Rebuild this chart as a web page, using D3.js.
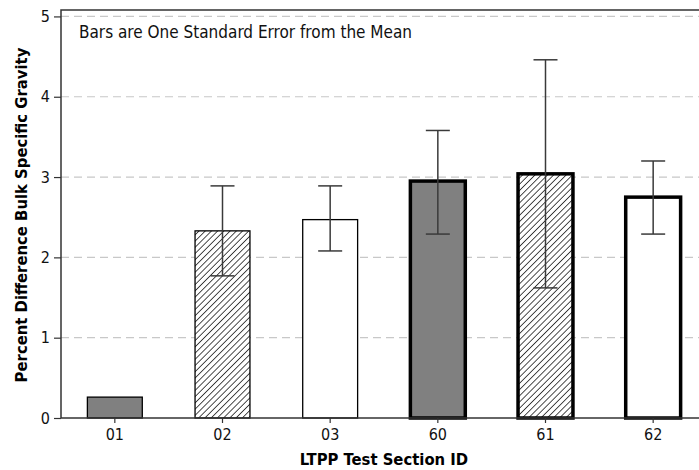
<!DOCTYPE html>
<meta charset="utf-8">
<style>
  body { margin: 0; background: #fff; }
  text { font-family: "DejaVu Sans Condensed", "DejaVu Sans", Tahoma, sans-serif; font-stretch: condensed; }
</style>
<svg width="699" height="470"></svg>
<script src="https://d3js.org/d3.v7.min.js"></script>
<script>

var sections = ["01", "02", "03", "60", "61", "62"];
var means = [0.26, 2.33, 2.47, 2.95, 3.04, 2.75];
var errLow = [null, 1.77, 2.08, 2.29, 1.62, 2.29];
var errHigh = [null, 2.89, 2.89, 3.58, 4.46, 3.20];
var fills = ["gray", "hatch", "white", "gray", "hatch", "white"];
var thick = [false, false, false, true, true, true];
var yTicks = [0, 1, 2, 3, 4, 5];

var svg = d3.select("svg"),
    margin = {left: 61, top: 10, bottom: 418, right: 707};

var x = d3.scaleBand()
    .domain(sections)
    .range([margin.left, margin.right])
    .paddingInner(0.49)
    .paddingOuter(0.245);

var y = d3.scaleLinear()
    .domain([0, 5.08])
    .range([margin.bottom, margin.top]);

// hatch pattern for the striped bars
var defs = svg.append("defs");
var pat = defs.append("pattern")
    .attr("id", "hatch")
    .attr("patternUnits", "userSpaceOnUse")
    .attr("width", 4.4).attr("height", 4.4)
    .attr("patternTransform", "rotate(45)");
pat.append("rect").attr("width", 4.4).attr("height", 4.4).attr("fill", "#fff");
pat.append("line")
    .attr("x1", 0).attr("y1", 0).attr("x2", 0).attr("y2", 4.4)
    .attr("stroke", "#000").attr("stroke-width", 1.4);

// gridlines
svg.append("g")
    .selectAll("line")
    .data(yTicks.filter(function(d) { return d > 0; }))
    .enter().append("line")
    .attr("x1", margin.left).attr("x2", margin.right)
    .attr("y1", function(d) { return y(d); })
    .attr("y2", function(d) { return y(d); })
    .attr("stroke", "#c8c8c8")
    .attr("stroke-width", 1.2)
    .attr("stroke-dasharray", "8,5");

// frame (top + left)
svg.append("path")
    .attr("d", "M" + margin.right + "," + margin.top + "H" + margin.left + "V" + margin.bottom)
    .attr("fill", "none").attr("stroke", "#333").attr("stroke-width", 1.5);

// bars
svg.append("g")
    .selectAll("rect")
    .data(sections)
    .enter().append("rect")
    .attr("x", function(d) { return x(d); })
    .attr("width", x.bandwidth())
    .attr("y", function(d, i) { return y(means[i]); })
    .attr("height", function(d, i) { return y(0) - y(means[i]); })
    .attr("fill", function(d, i) {
        return fills[i] == "gray" ? "#808080" : fills[i] == "hatch" ? "url(#hatch)" : "#fff";
    })
    .attr("stroke", "#000")
    .attr("stroke-width", function(d, i) { return thick[i] ? 3.5 : 1.3; });

// error bars
var eb = svg.append("g")
    .selectAll("g")
    .data(sections.filter(function(d, i) { return errLow[i] != null; }))
    .enter().append("g")
    .attr("stroke", "#3a3a3a")
    .attr("stroke-width", 1.5);

eb.append("line")
    .attr("x1", function(d) { return x(d) + x.bandwidth() / 2; })
    .attr("x2", function(d) { return x(d) + x.bandwidth() / 2; })
    .attr("y1", function(d) { return y(errLow[sections.indexOf(d)]); })
    .attr("y2", function(d) { return y(errHigh[sections.indexOf(d)]); });

[errLow, errHigh].forEach(function(arr) {
    eb.append("line")
        .attr("x1", function(d) { return x(d) + x.bandwidth() / 2 - 12; })
        .attr("x2", function(d) { return x(d) + x.bandwidth() / 2 + 12; })
        .attr("y1", function(d) { return y(arr[sections.indexOf(d)]); })
        .attr("y2", function(d) { return y(arr[sections.indexOf(d)]); });
});

// axes
var yAxis = svg.append("g")
    .attr("transform", "translate(" + margin.left + ",0)")
    .call(d3.axisLeft(y).tickValues(yTicks).tickFormat(d3.format("d")).tickSize(7).tickPadding(4));
yAxis.select(".domain").remove();

var xAxis = svg.append("g")
    .attr("transform", "translate(0," + margin.bottom + ")")
    .call(d3.axisBottom(x).tickSize(5).tickPadding(6));
xAxis.select(".domain")
    .attr("d", "M" + margin.left + ",0H" + margin.right)
    .attr("stroke", "#333").attr("stroke-width", 1.5);

svg.selectAll(".tick line").attr("stroke", "#333").attr("stroke-width", 1.2);
svg.selectAll(".tick text")
    .attr("font-family", null)
    .attr("font-size", 16)
    .attr("fill", "#111");

// annotation and titles
svg.append("text")
    .attr("x", 79).attr("y", 38)
    .attr("font-size", 17)
    .attr("fill", "#111")
    .text("Bars are One Standard Error from the Mean");

svg.append("text")
    .attr("x", (margin.left + margin.right) / 2).attr("y", 465)
    .attr("text-anchor", "middle")
    .attr("font-size", 16.5).attr("font-weight", "bold")
    .text("LTPP Test Section ID");

svg.append("text")
    .attr("transform", "translate(27,215) rotate(-90)")
    .attr("text-anchor", "middle")
    .attr("font-size", 16.5).attr("font-weight", "bold")
    .text("Percent Difference Bulk Specific Gravity");

</script>
